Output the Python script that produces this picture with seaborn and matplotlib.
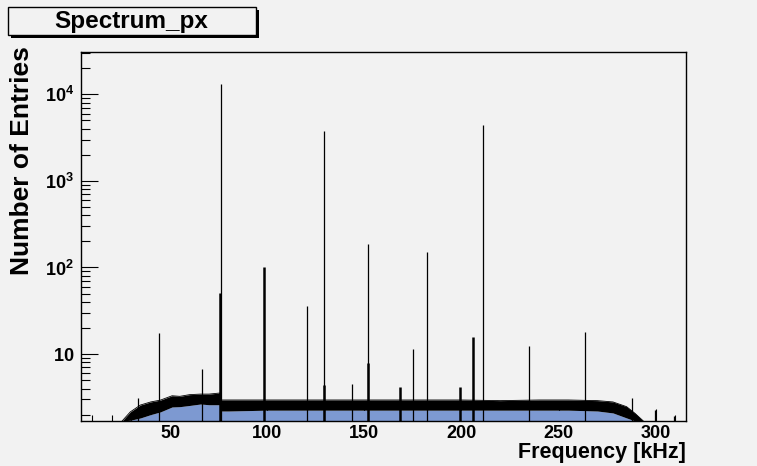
import matplotlib
matplotlib.use("Agg")
import seaborn as sns
from matplotlib import pyplot as plt
from matplotlib.patches import Rectangle
from matplotlib.ticker import FixedLocator, FixedFormatter, LogLocator, MultipleLocator, NullFormatter

# noise floor of the spectrum, read as an envelope (kHz -> entries)
BAND_FREQ = [25.3, 29.5, 34.7, 40.0, 45.0, 51.0, 55.0, 60.0, 65.6, 70.0, 75.5, 76.3, 80.0,
             100.0, 120.0, 140.0, 160.0, 180.0, 200.0, 220.0, 240.0, 255.0, 270.0,
             278.0, 285.0, 289.3, 293.6]
BAND_UPPER = [1.69, 2.15, 2.58, 2.80, 2.94, 3.30, 3.25, 3.40, 3.45, 3.45, 3.55, 2.95, 2.95,
              2.95, 2.95, 2.95, 2.95, 2.95, 2.95, 2.90, 2.95, 2.95, 2.90,
              2.80, 2.47, 2.07, 1.69]
BAND_LOWER = [1.69, 1.72, 1.83, 2.00, 2.15, 2.45, 2.47, 2.55, 2.65, 2.60, 2.60, 2.20, 2.20,
              2.25, 2.25, 2.25, 2.25, 2.25, 2.25, 2.25, 2.25, 2.25, 2.20,
              2.09, 1.83, 1.69, 1.69]

# single-bin lines
LINE_FREQ = [33.5, 44.5, 66.3, 76.3, 120.6, 129.2, 143.8, 151.9, 175.1, 182.1,
             211.3, 235.0, 263.4, 287.6, 299.6, 309.4]
LINE_HEIGHT = [3.1, 17.3, 6.7, 13250, 36, 3780, 4.5, 186, 11.3, 151,
               4400, 12.4, 18, 3.1, 2.26, 1.93]

# lines spread over two bins
DOUBLE_FREQ = [75.8, 98.2, 129.0, 152.1, 168.2, 199.1, 205.7]
DOUBLE_HEIGHT = [51, 100, 4.4, 7.8, 4.2, 4.2, 15.8]

XTICKS = [50, 100, 150, 200, 250, 300]
YTICKS = [10, 100, 1000, 10000]
YTICK_LABELS = [r"$10$", r"$10^{2}$", r"$10^{3}$", r"$10^{4}$"]

sns.set_style("ticks")
plt.rcParams["font.family"] = ["Liberation Sans", "DejaVu Sans"]
plt.rcParams["font.weight"] = "bold"
plt.rcParams["mathtext.fontset"] = "custom"
plt.rcParams["mathtext.rm"] = "Liberation Sans:bold"
plt.rcParams["mathtext.bf"] = "Liberation Sans:bold"
plt.rcParams["mathtext.default"] = "bf"
for key in ["text.color", "axes.labelcolor", "xtick.color", "ytick.color"]:
    plt.rcParams[key] = "black"

BG = "#f2f2f2"
W, H = 757, 466
fig = plt.figure(figsize=(W / 100, H / 100), dpi=100, facecolor=BG)
ax = fig.add_axes([81 / W, 45 / H, 605 / W, 369 / H])
ax.set_facecolor(BG)
ax.set_yscale("log")

ax.fill_between(BAND_FREQ, 1.0, BAND_LOWER, color="#7d99d1", lw=0)
ax.fill_between(BAND_FREQ, BAND_LOWER, BAND_UPPER, color="black", lw=0)
sns.lineplot(x=BAND_FREQ, y=BAND_UPPER, ax=ax, color="black", lw=0.6)
ax.vlines(LINE_FREQ, 1.0, LINE_HEIGHT, color="black", lw=0.9)
ax.vlines(DOUBLE_FREQ, 1.0, DOUBLE_HEIGHT, color="black", lw=1.8)

ax.set_xlim(4.1, 315.6)
ax.set_ylim(1.687, 30800)

ax.xaxis.set_major_locator(FixedLocator(XTICKS))
ax.xaxis.set_minor_locator(MultipleLocator(10))
ax.yaxis.set_major_locator(FixedLocator(YTICKS))
ax.yaxis.set_major_formatter(FixedFormatter(YTICK_LABELS))
ax.yaxis.set_minor_locator(LogLocator(base=10, subs=range(2, 10)))
ax.yaxis.set_minor_formatter(NullFormatter())

ax.tick_params(axis="x", which="major", direction="in", length=9, width=0.8, labelsize=13, pad=3)
ax.tick_params(axis="x", which="minor", direction="in", length=4.5, width=0.8)
ax.tick_params(axis="y", which="major", direction="in", length=12.5, width=0.8, labelsize=13, pad=5)
ax.tick_params(axis="y", which="minor", direction="in", length=6.3, width=0.8)
ax.tick_params(top=False, right=False, which="both", colors="black")

for sp in ax.spines.values():
    sp.set_visible(True)
    sp.set_color("black")
    sp.set_linewidth(1.0)

ax.set_xlabel("Frequency [kHz]", loc="right", fontsize=15.5, fontweight="bold")
ax.xaxis.set_label_coords(1.0, -0.058)
ax.set_ylabel("Number of Entries", loc="top", fontsize=19, fontweight="bold")
ax.yaxis.set_label_coords(-0.078, 1.015)

# title pave with shadow
fig.patches.append(Rectangle((10.5 / W, 1 - 37.5 / H), 248 / W, 28 / H, transform=fig.transFigure,
                             facecolor="black", edgecolor="none", zorder=1))
fig.patches.append(Rectangle((8 / W, 1 - 35 / H), 248 / W, 28 / H, transform=fig.transFigure,
                             facecolor=BG, edgecolor="black", lw=1, zorder=2))
fig.text(131 / W, 1 - 21.5 / H, "Spectrum_px", ha="center", va="center", fontsize=17.5,
         fontweight="bold", zorder=3)

fig.savefig("out.png", dpi=100, facecolor=BG)
